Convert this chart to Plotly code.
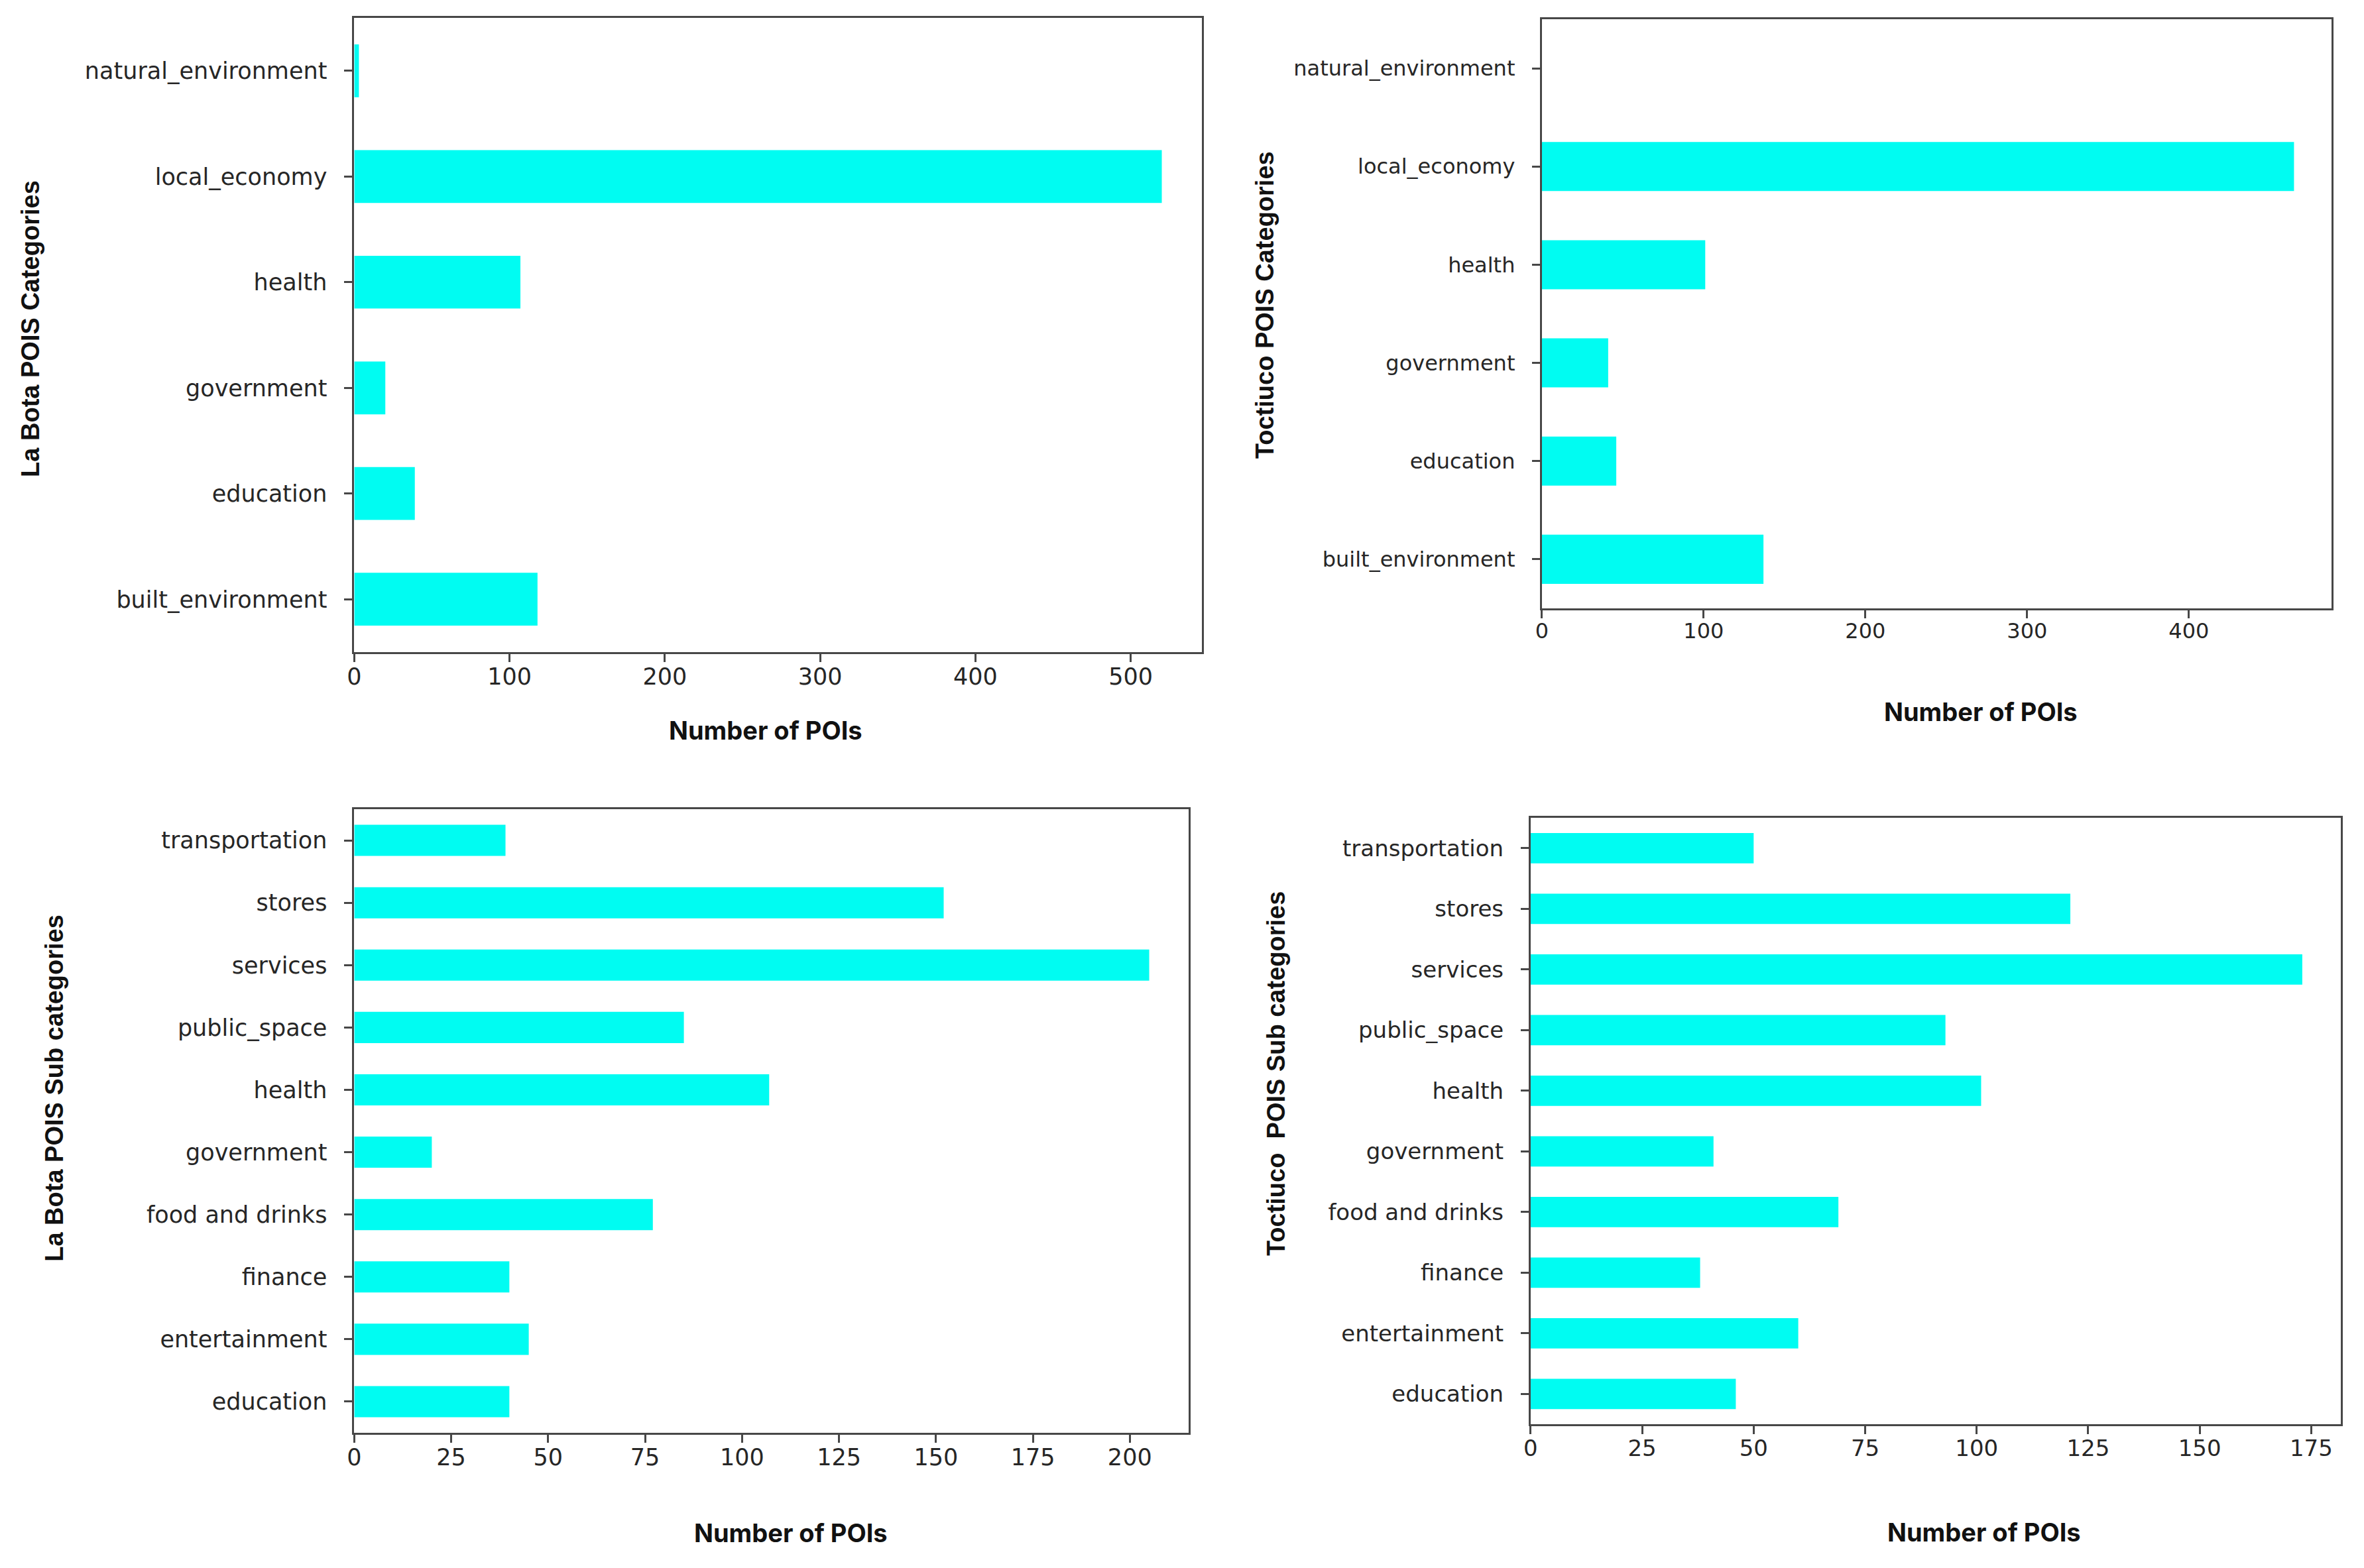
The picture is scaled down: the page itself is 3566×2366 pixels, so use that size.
import plotly.graph_objects as go

W, H = 3566, 2366

# ---- data ----
cat_labels = ["built_environment", "education", "government", "health",
              "local_economy", "natural_environment"]
labota_cat_values = [118, 39, 20, 107, 520, 3]
toctiuco_cat_values = [137, 46, 41, 101, 465, 0]

sub_labels = ["education", "entertainment", "finance", "food and drinks",
              "government", "health", "public_space", "services", "stores",
              "transportation"]
labota_sub_values = [40, 45, 40, 77, 20, 107, 85, 205, 152, 39]
toctiuco_sub_values = [46, 60, 38, 69, 41, 101, 93, 173, 121, 50]

cat_ticks_lb = [0, 100, 200, 300, 400, 500]
cat_ticks_tc = [0, 100, 200, 300, 400]
sub_ticks_lb = [0, 25, 50, 75, 100, 125, 150, 175, 200]
sub_ticks_tc = [0, 25, 50, 75, 100, 125, 150, 175]

x_title = "Number of POIs"
y_titles = ["La Bota POIS Categories", "Toctiuco POIS Categories",
            "La Bota POIS Sub categories", "Toctiuco  POIS Sub categories"]

BAR = "#00FCF2"
INK = "#262626"
SPINE = "#474747"

# panel pixel boxes: left, right, top, bottom
boxes = [(525, 1808, 27, 984), (2322, 3517, 29, 918),
         (525, 1788, 1221, 2162), (2305, 3531, 1234, 2149)]
tick_sizes = [35, 32, 35, 34]
panels = [
    (cat_labels, labota_cat_values, cat_ticks_lb),
    (cat_labels, toctiuco_cat_values, cat_ticks_tc),
    (sub_labels, labota_sub_values, sub_ticks_lb),
    (sub_labels, toctiuco_sub_values, sub_ticks_tc),
]
ytitle_pos = [(35, 496), (1903, 460), (71, 1642), (1920, 1620)]
xtitle_pos = [(1148, 1102), (2986, 1074), (1186, 2313), (2991, 2312)]

fig = go.Figure()
layout = dict(width=W, height=H, margin=dict(l=0, r=0, t=0, b=0),
              paper_bgcolor="white", plot_bgcolor="white", showlegend=False,
              bargap=0.5)
annotations = []

for i, ((labels, vals, ticks), (l, r, t, b)) in enumerate(zip(panels, boxes)):
    n = i + 1
    xa = "x" if n == 1 else f"x{n}"
    ya = "y" if n == 1 else f"y{n}"
    fig.add_trace(go.Bar(x=vals, y=labels, orientation="h", width=0.5,
                         marker=dict(color=BAR, line=dict(width=0)),
                         xaxis=xa, yaxis=ya))
    xmax = max(vals) * 1.05
    axis_common = dict(showline=True, mirror=True, linecolor=SPINE, linewidth=3,
                       showgrid=False, zeroline=False, ticks="outside",
                       ticklen=12, tickwidth=3, tickcolor=SPINE,
                       tickfont=dict(family="DejaVu Sans", size=tick_sizes[i],
                                     color=INK))
    layout["xaxis" if n == 1 else f"xaxis{n}"] = dict(
        axis_common, domain=[l / W, r / W], anchor=ya, range=[0, xmax],
        tickmode="array", tickvals=ticks, ticktext=[str(v) for v in ticks],
        ticklabelstandoff=-8)
    layout["yaxis" if n == 1 else f"yaxis{n}"] = dict(
        axis_common, domain=[1 - b / H, 1 - t / H], anchor=xa,
        type="category", categoryorder="array", categoryarray=labels,
        range=[-0.5, len(labels) - 0.5], ticklabelstandoff=19)
    yx, yy = ytitle_pos[i]
    annotations.append(dict(text=y_titles[i], x=yx / W, y=1 - yy / H,
                            xref="paper", yref="paper", showarrow=False,
                            textangle=-90, xanchor="center", yanchor="middle",
                            font=dict(family="Liberation Sans", size=38,
                                      color="#111111", weight="bold")))
    xx, xy = xtitle_pos[i]
    annotations.append(dict(text=x_title, x=xx / W, y=1 - xy / H,
                            xref="paper", yref="paper", showarrow=False,
                            xanchor="center", yanchor="middle",
                            font=dict(family="Inter", size=38,
                                      color="#111111", weight="bold")))

layout["annotations"] = annotations
fig.update_layout(**layout)
fig.write_html("out.html", config={"displayModeBar": False},
               post_script="document.body.style.margin='0px';")
